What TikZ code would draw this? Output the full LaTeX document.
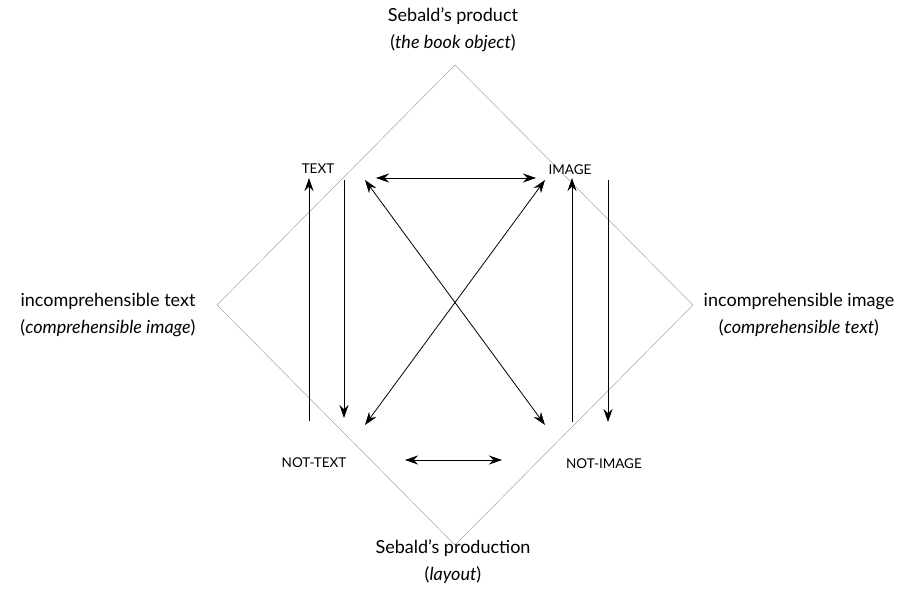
\documentclass[tikz,border=0pt]{standalone}
\usepackage{fontspec}
\setmainfont{Lato}
\usetikzlibrary{arrows.meta}
\tikzstyle{frame}=[draw=gray!70,line width=0.5pt]
\tikzstyle{pole}=[align=center,font=\fontsize{18}{27}\selectfont]
\tikzstyle{corner}=[font=\fontsize{13.5}{15}\selectfont]
\tikzstyle{link}=[draw,black,line width=0.8pt,-{Stealth[length=13pt,width=9pt]}]
\tikzstyle{both}=[link,{Stealth[length=13pt,width=9pt]}-{Stealth[length=13pt,width=9pt]}]

\begin{document}
\begin{tikzpicture}[x=1pt,y=1pt]
\useasboundingbox (0,0) rectangle (903,603);
% the diamond
\foreach \x/\y/\name in {455/538/top, 693/298/right, 455/58/bottom, 217/298/left}
    \coordinate (\name) at (\x,\y);
\draw[frame] (top) -- (right) -- (bottom) -- (left) -- cycle;
% outer texts
\node[pole] (product) at (453,573) {Sebald's product\\(\textit{the book object})};
\node[pole] (production) at (453,41) {Sebald's production\\(\textit{layout})};
\node[pole] (inctext) at (108,288) {incomprehensible text\\(\textit{comprehensible image})};
\node[pole] (incimage) at (799,288) {incomprehensible image\\(\textit{comprehensible text})};
% corners
\foreach \x/\y/\name/\txt in {318/434/text/TEXT, 570/433/image/IMAGE,
    314/140/nottext/NOT-TEXT, 604/139/notimage/NOT-IMAGE}
    \node[corner] (\name) at (\x,\y) {\txt};
% arrow ends
\foreach \x/\y/\name in {376/425/ha, 536/425/hb, 405/143/la, 502/143/lb,
    309/182/lua, 309/425/lub, 344/423/lda, 344/185/ldb,
    572/181/rua, 572/425/rub, 608/423/rda, 608/181/rdb,
    365/423/da, 545/178/db, 545/423/ea, 365/178/eb}
    \coordinate (\name) at (\x,\y);
\foreach \source/\dest in {lua/lub, lda/ldb, rua/rub, rda/rdb}
    \draw[link] (\source) -- (\dest);
\foreach \source/\dest in {ha/hb, la/lb, da/db, ea/eb}
    \draw[both] (\source) -- (\dest);

\end{tikzpicture}
\end{document}
